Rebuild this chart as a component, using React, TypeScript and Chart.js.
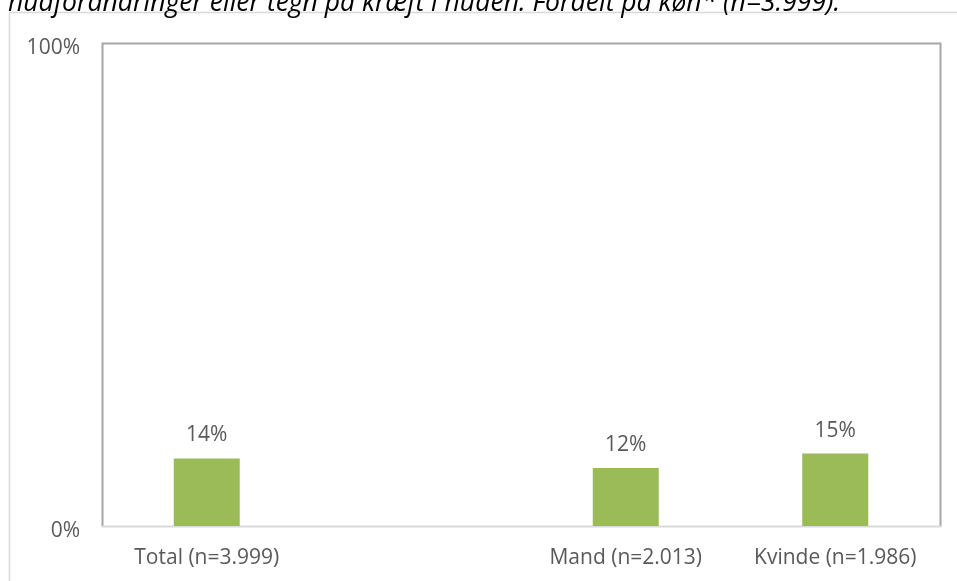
import React, { useEffect, useRef } from "react";
import { Chart, registerables } from "chart.js";

Chart.register(...registerables);

const titleText = "hudforandringer eller tegn på kræft i huden. Fordelt på køn* (n=3.999).";
const categories = ["Total (n=3.999)", "", "Mand (n=2.013)", "Kvinde (n=1.986)"];
const values: (number | null)[] = [14, null, 12, 15];
const yMin = 0;
const yMax = 100;

const FONT = "'Open Sans', sans-serif";
const TEXT = "#595959";

const decorPlugin = {
  id: "decor",
  beforeDraw(chart: any) {
    const { ctx, chartArea } = chart;
    ctx.save();
    // outer frame
    ctx.strokeStyle = "#d9d9d9";
    ctx.lineWidth = 1.5;
    ctx.strokeRect(9.5, 12.5, 1000, 700);
    // title (cut off at top)
    ctx.fillStyle = "#000000";
    ctx.font = `italic 26.5px ${FONT}`;
    ctx.textAlign = "left";
    ctx.textBaseline = "alphabetic";
    ctx.fillText(titleText, 8, 11);
    // plot frame
    const l = Math.round(chartArea.left) + 0.5;
    const r = Math.round(chartArea.right) + 0.5;
    const t = Math.round(chartArea.top) + 0.5;
    const b = Math.round(chartArea.bottom) + 0.5;
    ctx.lineWidth = 2;
    ctx.strokeStyle = "#a6a6a6";
    ctx.beginPath();
    ctx.moveTo(l, b);
    ctx.lineTo(l, t);
    ctx.lineTo(r, t);
    ctx.lineTo(r, b);
    ctx.stroke();
    ctx.strokeStyle = "#d9d9d9";
    ctx.beginPath();
    ctx.moveTo(l - 1, b);
    ctx.lineTo(r + 1, b);
    ctx.stroke();
    ctx.restore();
  },
  afterDatasetsDraw(chart: any) {
    const { ctx } = chart;
    const meta = chart.getDatasetMeta(0);
    ctx.save();
    ctx.fillStyle = TEXT;
    ctx.font = `21px ${FONT}`;
    ctx.textAlign = "center";
    ctx.textBaseline = "middle";
    meta.data.forEach((bar: any, i: number) => {
      const v = values[i];
      if (v === null || v === undefined) return;
      ctx.fillText(`${v}%`, bar.x, bar.y - 23);
    });
    ctx.restore();
  },
};

export default function App() {
  const ref = useRef<HTMLCanvasElement>(null);
  useEffect(() => {
    if (!ref.current) return;
    const chart = new Chart(ref.current, {
      type: "bar",
      data: {
        labels: categories,
        datasets: [
          {
            data: values as any,
            backgroundColor: "#9bbb59",
            categoryPercentage: 1,
            barPercentage: 0.315,
          },
        ],
      },
      options: {
        animation: false,
        responsive: false,
        layout: { padding: { left: 0, top: 43, right: 17, bottom: 0 } },
        plugins: {
          legend: { display: false },
          tooltip: { enabled: false },
          title: { display: false },
        },
        scales: {
          x: {
            grid: { display: false, drawTicks: false },
            border: { display: false },
            ticks: {
              color: TEXT,
              font: { family: FONT, size: 21 },
              padding: 19,
              maxRotation: 0,
              autoSkip: false,
            },
            afterFit(scale: any) {
              scale.height = 55;
            },
          },
          y: {
            min: yMin,
            max: yMax,
            grid: { display: false, drawTicks: false },
            border: { display: false },
            ticks: {
              stepSize: 100,
              color: TEXT,
              font: { family: FONT, size: 21 },
              padding: 22,
              labelOffset: 5,
              callback: (v: any) => `${v}%`,
            },
            afterFit(scale: any) {
              scale.width = 102;
            },
          },
        },
      },
      plugins: [decorPlugin],
    });
    return () => chart.destroy();
  }, []);
  return (
    <div style={{ position: "fixed", left: 0, top: 0, width: 957, height: 581, background: "#fff" }}>
      <canvas ref={ref} width={957} height={581} style={{ width: 957, height: 581, display: "block" }} />
    </div>
  );
}
